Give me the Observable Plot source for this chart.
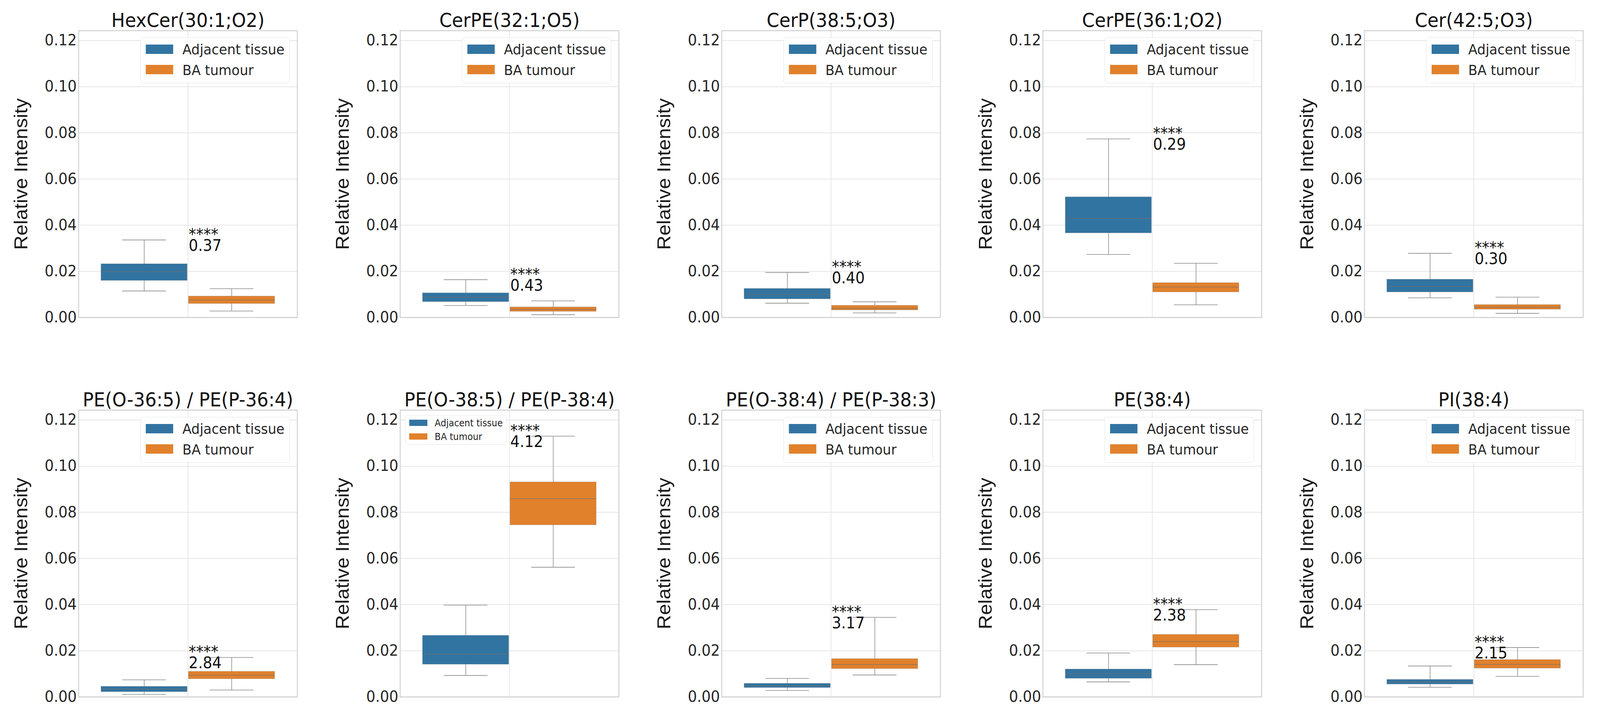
<!DOCTYPE html>
<html><head><meta charset="utf-8">
<script src="https://cdn.jsdelivr.net/npm/d3@7"></script>
<script src="https://cdn.jsdelivr.net/npm/@observablehq/plot@0.6"></script>
<style>
html,body{margin:0;padding:0;background:#fff;overflow:hidden;}
#root{position:absolute;left:0;top:0;width:4324px;height:1840px;overflow:hidden;transform-origin:0 0;background:#fff;}
.panel{position:absolute;width:868px;height:860px;}
.legend{position:absolute;box-sizing:border-box;background:rgba(255,255,255,0.85);border:1.5px solid #e4e4e4;border-radius:7px;font-family:"DejaVu Sans";color:#262626;}
.legend .sw{position:absolute;}
.legend .lt{position:absolute;white-space:nowrap;}
</style></head><body><div id="root"></div>
<script>
// ---------------- data ----------------
const lipids = [
  "HexCer(30:1;O2)", "CerPE(32:1;O5)", "CerP(38:5;O3)", "CerPE(36:1;O2)", "Cer(42:5;O3)",
  "PE(O-36:5) / PE(P-36:4)", "PE(O-38:5) / PE(P-38:4)", "PE(O-38:4) / PE(P-38:3)", "PE(38:4)", "PI(38:4)"
];
const groups = ["Adjacent tissue", "BA tumour"];
const significance = ["****","****","****","****","****","****","****","****","****","****"];
const foldChange = ["0.37","0.43","0.40","0.29","0.30","2.84","4.12","3.17","2.38","2.15"];

// Adjacent tissue box statistics
const adjLow  = [0.0115, 0.0052, 0.0062, 0.0273, 0.0085, 0.0011, 0.0093, 0.0028, 0.0065, 0.0042];
const adjQ1   = [0.0160, 0.0068, 0.0080, 0.0366, 0.0110, 0.0022, 0.0141, 0.0040, 0.0080, 0.0055];
const adjMed  = [0.0199, 0.0088, 0.0100, 0.0429, 0.0135, 0.0034, 0.0185, 0.0048, 0.0100, 0.0065];
const adjQ3   = [0.0232, 0.0106, 0.0125, 0.0522, 0.0165, 0.0045, 0.0266, 0.0058, 0.0120, 0.0075];
const adjHigh = [0.0336, 0.0164, 0.0195, 0.0774, 0.0278, 0.0074, 0.0398, 0.0080, 0.0190, 0.0134];
// BA tumour box statistics
const tumLow  = [0.0028, 0.0012, 0.0020, 0.0055, 0.0018, 0.0030, 0.0562, 0.0095, 0.0140, 0.0089];
const tumQ1   = [0.0060, 0.0026, 0.0032, 0.0110, 0.0035, 0.0078, 0.0745, 0.0122, 0.0215, 0.0124];
const tumMed  = [0.0076, 0.0035, 0.0040, 0.0132, 0.0045, 0.0094, 0.0859, 0.0140, 0.0240, 0.0141];
const tumQ3   = [0.0092, 0.0045, 0.0052, 0.0150, 0.0055, 0.0110, 0.0931, 0.0165, 0.0270, 0.0161];
const tumHigh = [0.0125, 0.0072, 0.0068, 0.0235, 0.0088, 0.0171, 0.1130, 0.0345, 0.0378, 0.0214];

const yTicks = [0, 0.02, 0.04, 0.06, 0.08, 0.10, 0.12];
const yLabel = "Relative Intensity";
const legendPlacement = ["upper right","upper right","upper right","upper right","upper right",
                         "upper right","upper left","upper right","upper right","upper right"];

// ---------------- style / layout ----------------
const colors = ["#3274a1", "#e1812c"];
const W = 868, H = 860, ML = 212, MR = 65, MT = 78, MB = 48;
const colStep = 868.75, rowTop = [0, 971];
const dodge = [-0.2, 0.2], halfBox = 0.197, halfCap = 0.1;
const yMax = d3.max([...adjHigh, ...tumHigh]) * 1.1;
const lineGray = "#8a8a8a";

const root = document.getElementById("root");
const sx = window.innerWidth / 4324, sy = window.innerHeight / 1840;
root.style.transform = `scale(${sx}, ${sy})`;

function makePanel(i) {
  const boxes = [
    {g: groups[0], c: dodge[0], lo: adjLow[i], q1: adjQ1[i], med: adjMed[i], q3: adjQ3[i], hi: adjHigh[i]},
    {g: groups[1], c: dodge[1], lo: tumLow[i], q1: tumQ1[i], med: tumMed[i], q3: tumQ3[i], hi: tumHigh[i]}
  ];
  const top = d3.max(boxes, d => d.hi);
  const chart = Plot.plot({
    width: W, height: H,
    marginLeft: ML, marginRight: MR, marginTop: MT, marginBottom: MB,
    style: {fontFamily: "DejaVu Sans", color: "#262626", background: "white", overflow: "visible"},
    x: {domain: [-0.5, 0.5], axis: null},
    y: {domain: [0, yMax], axis: null},
    color: {domain: groups, range: colors},
    marks: [
      Plot.gridY(yTicks, {stroke: "#e6e6e6", strokeOpacity: 1, strokeWidth: 2}),
      Plot.gridX([0], {stroke: "#e6e6e6", strokeOpacity: 1, strokeWidth: 2}),
      Plot.frame({stroke: "#d0d0d0", strokeWidth: 2.5}),
      Plot.axisY(yTicks, {tickSize: 0, tickPadding: 5, tickFormat: d3.format(".2f"), fontSize: 39, label: null, fill: "#262626"}),
      Plot.ruleX(boxes, {x: "c", y1: "lo", y2: "q1", stroke: lineGray, strokeWidth: 1.6}),
      Plot.ruleX(boxes, {x: "c", y1: "q3", y2: "hi", stroke: lineGray, strokeWidth: 1.6}),
      Plot.ruleY(boxes, {y: "lo", x1: d => d.c - halfCap, x2: d => d.c + halfCap, stroke: lineGray, strokeWidth: 1.6}),
      Plot.ruleY(boxes, {y: "hi", x1: d => d.c - halfCap, x2: d => d.c + halfCap, stroke: lineGray, strokeWidth: 1.6}),
      Plot.rect(boxes, {x1: d => d.c - halfBox, x2: d => d.c + halfBox, y1: "q1", y2: "q3", fill: "g",
                        stroke: "#5a5a5a", strokeOpacity: 0.3, strokeWidth: 1.2}),
      Plot.ruleY(boxes, {y: "med", x1: d => d.c - halfBox, x2: d => d.c + halfBox, stroke: "#6f6f6f", strokeOpacity: 0.8, strokeWidth: 1.5}),
      Plot.text([lipids[i]], {frameAnchor: "top", dy: -10, lineAnchor: "bottom", fontSize: 49, fill: "#111"}),
      Plot.text([yLabel], {frameAnchor: "left", rotate: -90, dx: -155, lineAnchor: "middle", textAnchor: "middle",
                           fontSize: 51, fontFamily: "Liberation Sans", fill: "#1a1a1a"}),
      Plot.text([{x: 0, y: top, t: significance[i] + "\n" + foldChange[i]}],
                {x: "x", y: "y", text: "t", textAnchor: "start", lineAnchor: "middle", lineHeight: 0.7,
                 fontSize: 40, dx: 2, dy: 5, fill: "#111"})
    ]
  });
  const div = document.createElement("div");
  div.className = "panel";
  const col = i % 5, row = Math.floor(i / 5);
  div.style.left = (col * colStep) + "px";
  div.style.top = rowTop[row] + "px";
  div.appendChild(chart);

  // legend
  const lg = document.createElement("div");
  lg.className = "legend";
  const frameW = W - ML - MR;
  let spec;
  if (legendPlacement[i] === "upper left") {
    spec = {left: ML + 14, top: MT + 13, w: 274, h: 76, swL: 10, swW: 49, swH: 16, swT: [11, 46], tL: 79, fs: 24, base: [28, 63.5]};
  } else {
    spec = {left: ML + frameW - 20 - 404, top: MT + 18, w: 404, h: 117, swL: 14, swW: 74, swH: 24, swT: [17, 69], tL: 113, fs: 36, base: [42, 95]};
  }
  lg.style.left = spec.left + "px"; lg.style.top = spec.top + "px";
  lg.style.width = spec.w + "px"; lg.style.height = spec.h + "px";
  groups.forEach((g, k) => {
    const sw = document.createElement("div");
    sw.className = "sw";
    sw.style.left = spec.swL + "px"; sw.style.top = spec.swT[k] + "px";
    sw.style.width = spec.swW + "px"; sw.style.height = spec.swH + "px";
    sw.style.background = colors[k];
    lg.appendChild(sw);
    const t = document.createElement("div");
    t.className = "lt";
    t.textContent = g;
    t.style.fontSize = spec.fs + "px";
    t.style.lineHeight = spec.fs + "px";
    t.style.left = spec.tL + "px";
    t.style.top = (spec.base[k] - 0.846 * spec.fs) + "px";
    lg.appendChild(t);
  });
  div.appendChild(lg);
  root.appendChild(div);
}
for (let i = 0; i < lipids.length; i++) makePanel(i);
</script></body></html>
